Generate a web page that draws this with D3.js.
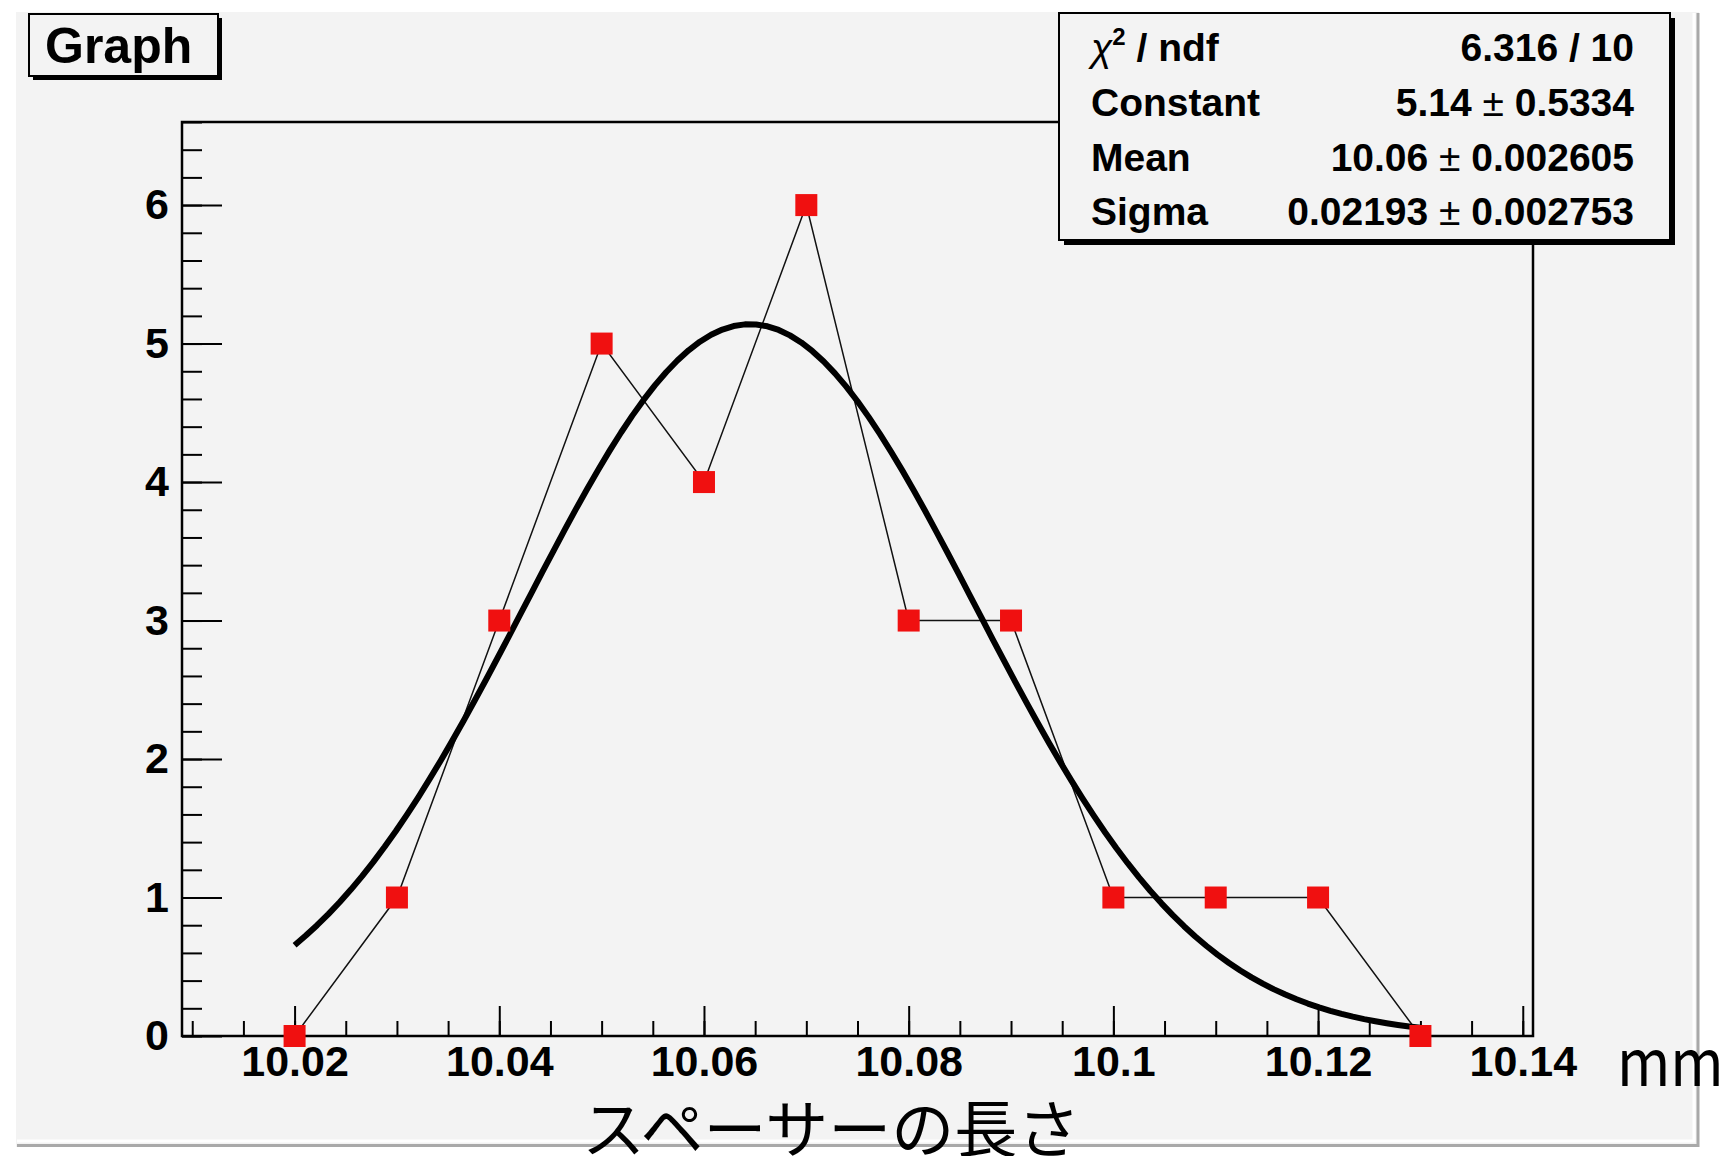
<!DOCTYPE html>
<html>
<head>
<meta charset="utf-8">
<script src="https://cdn.jsdelivr.net/npm/d3@7"></script>
<style>
body { margin: 0; background: #fff; }
text { font-family: "Liberation Sans", Arial, sans-serif; font-weight: bold; fill: #000; }
.jp { font-family: "Noto Sans CJK JP", sans-serif; font-weight: normal; }
</style>
</head>
<body>
<svg id="chart"></svg>
<script>
const width = 1733;
const height = 1156;

// graph points
const lengths = [10.02, 10.03, 10.04, 10.05, 10.06, 10.07, 10.08, 10.09, 10.10, 10.11, 10.12, 10.13];
const counts = [0, 1, 3, 5, 4, 6, 3, 3, 1, 1, 1, 0];

// axes
const xTicks = [10.02, 10.04, 10.06, 10.08, 10.10, 10.12, 10.14];
const yTicks = [0, 1, 2, 3, 4, 5, 6];
const xDomain = [10.009, 10.141];
const yDomain = [0, 6.6];

// gaus fit
const fitConstant = 5.14;
const fitMean = 10.0645;
const fitSigma = 0.02193;
const fitRange = [10.02, 10.13];

// stats box
const statNames = ['Constant', 'Mean', 'Sigma'];
const statValues = [['5.14', '0.5334'], ['10.06', '0.002605'], ['0.02193', '0.002753']];
const chiText = '6.316 / 10';

const frame = {left: 182, top: 122, right: 1533, bottom: 1036};

const svg = d3.select('#chart')
    .attr('width', width)
    .attr('height', height);

// canvas with bevel border
svg.append('rect')
    .attr('x', 16).attr('y', 12)
    .attr('width', 1683).attr('height', 1135)
    .style('fill', '#f3f3f3');
svg.append('path')
    .attr('d', 'M1694,13V1141H17')
    .style('fill', 'none').style('stroke', '#fff').style('stroke-width', 3);
svg.append('path')
    .attr('d', 'M1698,13V1145.5H17')
    .style('fill', 'none').style('stroke', '#a9a9a9').style('stroke-width', 3);

const x = d3.scaleLinear()
    .domain(xDomain)
    .range([frame.left, frame.right]);
const y = d3.scaleLinear()
    .domain(yDomain)
    .range([frame.bottom, frame.top]);

const tickText = g => g.selectAll('text')
    .style('font-size', '43px')
    .style('font-family', '"Liberation Sans", Arial, sans-serif')
    .style('font-weight', 'bold');

// minor ticks first, then major ticks with labels
svg.append('g')
    .attr('transform', `translate(0,${frame.bottom})`)
    .call(d3.axisBottom(x).tickValues(x.ticks(30)).tickSize(-15).tickFormat(''))
    .call(g => g.select('.domain').remove())
    .call(g => g.selectAll('line').style('stroke', '#000').style('stroke-width', 2));
svg.append('g')
    .attr('transform', `translate(0,${frame.bottom})`)
    .call(d3.axisBottom(x).tickValues(xTicks).tickSize(-30).tickPadding(9).tickFormat(d3.format('')))
    .call(g => g.select('.domain').remove())
    .call(g => g.selectAll('line').style('stroke', '#000').style('stroke-width', 2))
    .call(tickText);

svg.append('g')
    .attr('transform', `translate(${frame.left},0)`)
    .call(d3.axisLeft(y).tickValues(y.ticks(33)).tickSize(-20).tickFormat(''))
    .call(g => g.select('.domain').remove())
    .call(g => g.selectAll('line').style('stroke', '#000').style('stroke-width', 2));
svg.append('g')
    .attr('transform', `translate(${frame.left},0)`)
    .call(d3.axisLeft(y).tickValues(yTicks).tickSize(-40).tickPadding(13).tickFormat(d3.format('d')))
    .call(g => g.select('.domain').remove())
    .call(g => g.selectAll('line').style('stroke', '#000').style('stroke-width', 2))
    .call(tickText);

// frame
svg.append('rect')
    .attr('x', frame.left).attr('y', frame.top)
    .attr('width', frame.right - frame.left)
    .attr('height', frame.bottom - frame.top)
    .style('fill', 'none')
    .style('stroke', '#000')
    .style('stroke-width', 2.5);

const points = lengths.map((_, i) => [_, counts[i]]);

// thin polyline through the points
svg.append('path')
    .datum(points)
    .attr('d', d3.line().x(_ => x(_[0])).y(_ => y(_[1])))
    .style('fill', 'none')
    .style('stroke', '#111')
    .style('stroke-width', 1.5);

// fitted gaussian, sampled like TF1 with 100 points
const gaus = v => fitConstant * Math.exp(-0.5 * Math.pow((v - fitMean) / fitSigma, 2));
const fitPoints = d3.range(101)
    .map(i => fitRange[0] + i * (fitRange[1] - fitRange[0]) / 100)
    .map(v => [v, gaus(v)]);
svg.append('path')
    .datum(fitPoints)
    .attr('d', d3.line().x(_ => x(_[0])).y(_ => y(_[1])))
    .style('fill', 'none')
    .style('stroke', '#000')
    .style('stroke-width', 6)
    .style('stroke-linejoin', 'round');

const markerSize = 22;
svg.append('g')
    .selectAll('rect')
    .data(points)
    .enter().append('rect')
    .attr('x', _ => x(_[0]) - markerSize / 2)
    .attr('y', _ => y(_[1]) - markerSize / 2)
    .attr('width', markerSize)
    .attr('height', markerSize)
    .style('fill', '#f01010');

// boxes with a drop shadow
function shadowBox(x0, y0, w, h, off) {
    svg.append('rect')
        .attr('x', x0 + off).attr('y', y0 + off)
        .attr('width', w).attr('height', h)
        .style('fill', '#000');
    svg.append('rect')
        .attr('x', x0).attr('y', y0)
        .attr('width', w).attr('height', h)
        .style('fill', '#f3f3f3')
        .style('stroke', '#000')
        .style('stroke-width', 2);
}

shadowBox(29, 14, 189, 62, 4);
svg.append('text')
    .attr('x', 45).attr('y', 63)
    .style('font-size', '50px')
    .text('Graph');

shadowBox(1059, 13, 611, 227, 5);
const stats = svg.append('g').style('font-size', '39px');
const rowY = [61, 116, 171, 225];

const chi = stats.append('text')
    .attr('x', 1091).attr('y', rowY[0]);
chi.append('tspan').style('font-weight', 'normal').style('font-style', 'italic').text('χ');
chi.append('tspan').style('font-size', '24px').attr('dy', -16).text('2');
chi.append('tspan').attr('dy', 16).text(' / ndf');
stats.append('text')
    .attr('x', 1634).attr('y', rowY[0])
    .attr('text-anchor', 'end')
    .text(chiText);

stats.selectAll('.name')
    .data(statNames)
    .enter().append('text')
    .classed('name', true)
    .attr('x', 1091)
    .attr('y', (_, i) => rowY[i + 1])
    .text(_ => _);

const vals = stats.selectAll('.value')
    .data(statValues)
    .enter().append('text')
    .classed('value', true)
    .attr('text-anchor', 'end')
    .attr('x', 1634)
    .attr('y', (_, i) => rowY[i + 1]);
vals.append('tspan').text(_ => _[0] + ' ');
vals.append('tspan').style('font-weight', 'normal').text('±');
vals.append('tspan').text(_ => ' ' + _[1]);

// axis titles
svg.append('text')
    .classed('jp', true)
    .attr('transform', 'translate(1617,1086) scale(0.9,1)')
    .style('font-size', '64px')
    .text('mm');
svg.append('text')
    .classed('jp', true)
    .attr('x', 582).attr('y', 1152)
    .style('font-size', '63px')
    .text('スペーサーの長さ');
</script>
</body>
</html>
